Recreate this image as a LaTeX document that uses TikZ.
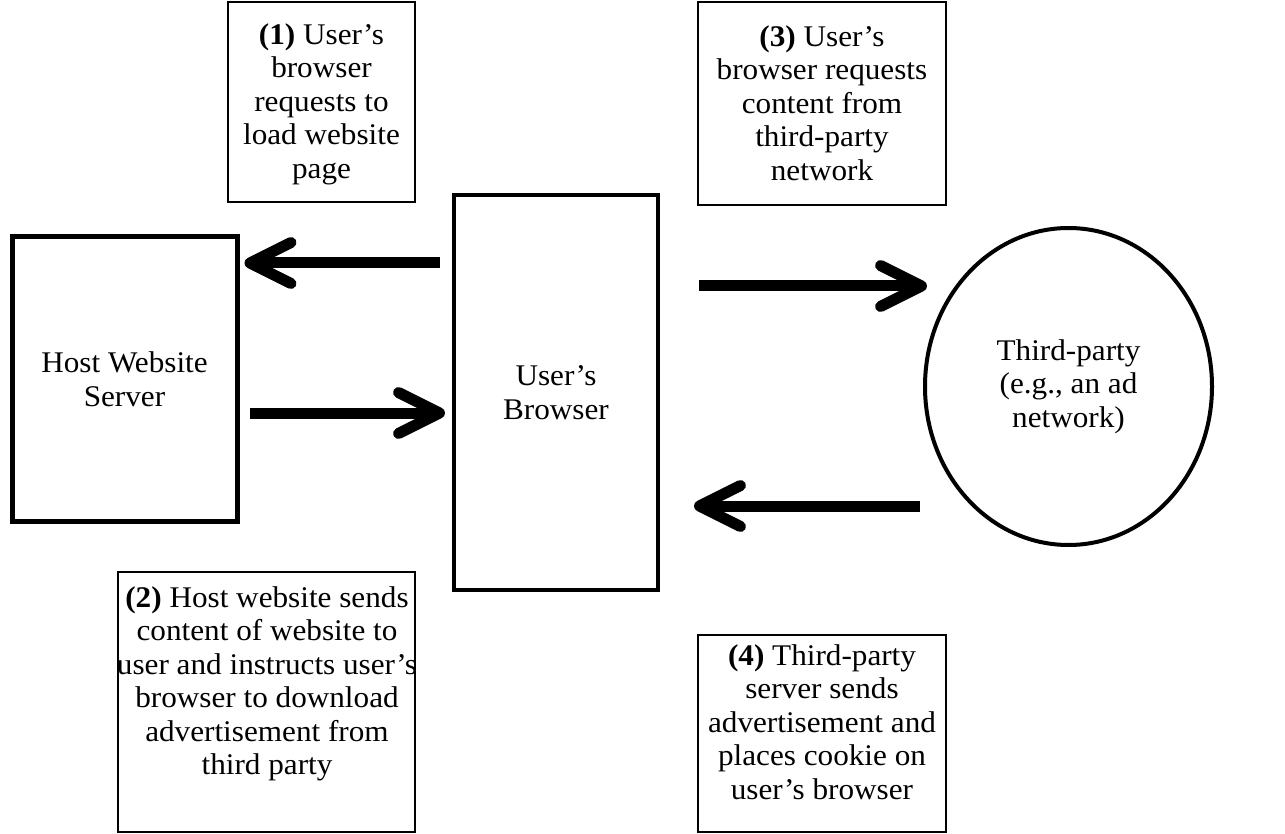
\documentclass[tikz,border=0pt]{standalone}
\usepackage{fontspec}
\setmainfont{Liberation Serif}[FakeStretch=1.04]
\usetikzlibrary{arrows.meta,shapes.geometric}
\begin{document}
\begin{tikzpicture}[x=1pt,y=-1pt,
  every node/.style={font=\fontsize{30}{33.5}\selectfont, align=center, inner sep=0pt},
  notebox/.style={draw, line width=1.3pt, rectangle},
  party/.style={draw, rectangle},
  bigarrow/.style={line width=11pt, -{Straight Barb[length=41pt,width=41pt,round]}}
]
\useasboundingbox (0,0) rectangle (1285,834);

% main parties
\node[party, line width=5pt, minimum width=225pt, minimum height=285pt] (host) at (124.5,379) {Host Website\\Server};
\node[party, line width=4pt, minimum width=204pt, minimum height=395pt] (browser) at (556,392.5) {User's\\Browser};
\node[draw, ellipse, line width=4pt, minimum width=287pt, minimum height=317pt] (third) at (1068.5,386.5) {Third-party\\(e.g., an ad\\network)};

% step descriptions
\node[notebox, minimum width=187pt, minimum height=200pt] (s1box) at (321.5,102) {};
\node (s1) at (321.5,104) {\textbf{(1)} User's\\browser\\requests to\\load website\\page};

\node[notebox, minimum width=248pt, minimum height=203pt] (s3box) at (822,103.5) {};
\node (s3) at (822,103) {\textbf{(3)} User's\\browser requests\\content from\\third-party\\network};

\node[notebox, minimum width=297pt, minimum height=260pt] (s2box) at (266.5,702) {};
\node (s2) at (267,684) {\textbf{(2)} Host website sends\\content of website to\\user and instructs user's\\browser to download\\advertisement from\\third party};

\node[notebox, minimum width=248pt, minimum height=197pt] (s4box) at (822,733.5) {};
\node (s4) at (822,722) {\textbf{(4)} Third-party\\server sends\\advertisement and\\places cookie on\\user's browser};

% message arrows
\draw[bigarrow, shorten <=12pt, shorten >=5pt] (browser.west |- 0,263) -- (host.east |- 0,263);
\draw[bigarrow, shorten <=10pt, shorten >=7pt] (host.east |- 0,413) -- (browser.west |- 0,413);
\draw[bigarrow, shorten <=39pt] (browser.east |- 0,286) -- (927,286) coordinate (a3end);
\draw[bigarrow, shorten >=34pt] (920,506) coordinate (a4start) -- (browser.east |- 0,506);
\end{tikzpicture}
\end{document}
